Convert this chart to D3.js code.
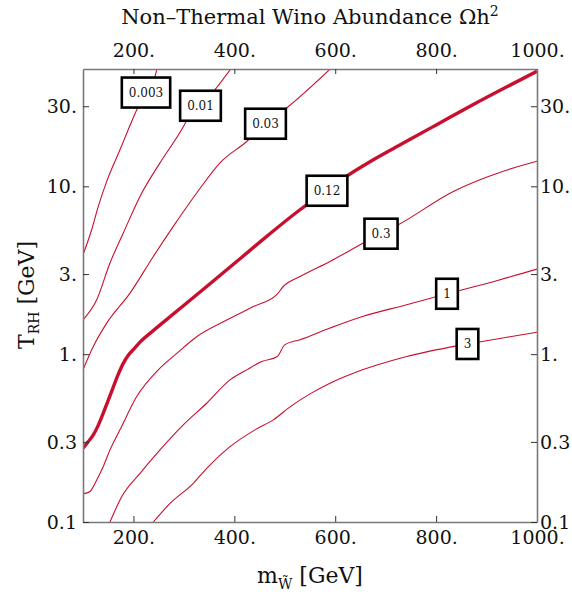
<!DOCTYPE html>
<html><head><meta charset="utf-8">
<script src="https://cdn.jsdelivr.net/npm/d3@7/dist/d3.min.js"></script>
<style>
body{margin:0;background:#fff}
svg{display:block}
text{font-family:"DejaVu Serif",serif;fill:#111}
</style>
</head><body>
<svg id="chart" width="572" height="596"></svg>
<script>
// ---- data ----
const levels = ["0.003", "0.01", "0.03", "0.12", "0.3", "1", "3"];
const thickLevel = "0.12";

const mass_0003 = [100, 117.2, 130.3, 147.0, 173.3, 189.8, 207.6, 224.9, 242.7, 246.7];
const trh_0003  = [3.91, 5.51, 7.59, 10.7, 16.5, 21.8, 29.0, 36.2, 45.0, 50.3];

const mass_001 = [100, 127.2, 153.5, 179.9, 213.0, 252.6, 295.7, 305.6, 332.9, 361.7, 393.4];
const trh_001  = [1.60, 2.11, 3.49, 5.27, 8.71, 13.8, 21.8, 24.6, 30.2, 37.7, 50.3];

const mass_003 = [100, 120.4, 147.0, 193.2, 239.4, 279.0, 325.4, 371.6, 424.5, 461.8, 501.8, 591.0];
const trh_003  = [0.806, 1.11, 1.53, 2.31, 3.82, 5.77, 9.12, 13.8, 18.5, 23.6, 29.0, 50.3];

const mass_012 = [100, 109.9, 119.8, 129.7, 139.6, 149.6, 159.5, 169.4, 179.3, 189.8, 201.1, 213.0, 232.8, 285.7, 345.2, 411.2, 464.2, 530.2, 583.7, 622.8, 675.5, 735.0, 801.2, 873.7, 1000];
const trh_012  = [0.275, 0.300, 0.328, 0.374, 0.441, 0.527, 0.630, 0.752, 0.875, 0.984, 1.076, 1.18, 1.33, 1.80, 2.53, 3.70, 5.03, 7.25, 9.41, 11.5, 14.4, 18.1, 23.3, 30.7, 48.5];

const mass_03 = [100, 113.9, 127.2, 140.2, 153.5, 173.3, 206.5, 249.3, 285.7, 325.4, 378.1, 437.6, 484.0, 497.1, 530.2, 589.6, 655.7, 690.8, 725.1, 834.1, 933.2, 1000];
const trh_03  = [0.147, 0.152, 0.178, 0.214, 0.269, 0.354, 0.559, 0.806, 1.01, 1.27, 1.56, 1.92, 2.26, 2.53, 2.90, 3.57, 4.59, 5.22, 5.90, 9.32, 12.3, 14.1];

const mass_1 = [153.5, 176.7, 213.0, 252.6, 298.8, 345.2, 391.4, 424.5, 454.2, 484.6, 500.4, 530.2, 589.6, 655.7, 741.7, 821.6, 920.1, 1000];
const trh_1  = [0.1, 0.1415, 0.195, 0.269, 0.379, 0.510, 0.703, 0.806, 0.904, 0.964, 1.14, 1.22, 1.43, 1.68, 1.97, 2.29, 2.74, 3.21];

const mass_3 = [239.4, 272.5, 318.7, 345.2, 391.4, 441.0, 477.3, 510.4, 550.0, 589.6, 635.8, 741.7, 862.2, 946.5, 1000];
const trh_3  = [0.1, 0.129, 0.170, 0.209, 0.281, 0.354, 0.406, 0.485, 0.580, 0.672, 0.770, 0.968, 1.15, 1.27, 1.35];

const labelMass = [224.9, 332.9, 461.8, 583.7, 690.8, 821.6, 862.2];

const xTicks = [200, 400, 600, 800, 1000];
const xTickLabels = ["200.", "400.", "600.", "800.", "1000."];
const yTicks = [0.1, 0.3, 1, 3, 10, 30];
const yTickLabels = ["0.1", "0.3", "1.", "3.", "10.", "30."];

const massSeries = [mass_0003, mass_001, mass_003, mass_012, mass_03, mass_1, mass_3];
const trhSeries  = [trh_0003, trh_001, trh_003, trh_012, trh_03, trh_1, trh_3];

// ---- layout ----
const pL = 83, pR = 537, pT = 69, pB = 522;
const lineColor = "#c8102e";

const svg = d3.select("#chart");
const x = d3.scaleLinear().domain([100, 1000]).range([pL, pR]);
const y = d3.scaleLog().domain([0.1, 50]).range([pB, pT]);

svg.append("defs").append("clipPath").attr("id", "plotclip")
  .append("rect").attr("x", pL).attr("y", pT)
  .attr("width", pR - pL).attr("height", pB - pT);

// contours
const line = d3.line().x(d => x(d[0])).y(d => y(d[1])).curve(d3.curveMonotoneX);
const gc = svg.append("g").attr("clip-path", "url(#plotclip)");
levels.forEach((lv, i) => {
  const pts = massSeries[i].map((m, j) => [m, trhSeries[i][j]]);
  gc.append("path").attr("d", line(pts)).attr("fill", "none")
    .attr("stroke", lineColor)
    .attr("stroke-width", lv === thickLevel ? 3.4 : 1.1)
    .attr("stroke-linejoin", "round");
});

// axes
function styleAxis(g) {
  g.select(".domain").attr("stroke", "#7a7a7a").attr("stroke-width", 1.6);
  g.selectAll(".tick line").attr("stroke", "#333").attr("stroke-width", 1);
  g.selectAll(".tick text").attr("font-family", "DejaVu Serif").attr("font-size", 19).attr("fill", "#111");
}
svg.append("g").attr("transform", `translate(0,${pB})`)
  .call(d3.axisBottom(x).tickValues(xTicks).tickFormat((d, i) => xTickLabels[i])
    .tickSizeInner(-6).tickSizeOuter(0).tickPadding(9)).call(styleAxis);
svg.append("g").attr("transform", `translate(0,${pT})`)
  .call(d3.axisTop(x).tickValues(xTicks).tickFormat((d, i) => xTickLabels[i])
    .tickSizeInner(-5).tickSizeOuter(0).tickPadding(12)).call(styleAxis);
svg.append("g").attr("transform", `translate(${pL},0)`)
  .call(d3.axisLeft(y).tickValues(yTicks).tickFormat((d, i) => yTickLabels[i])
    .tickSizeInner(-6).tickSizeOuter(0).tickPadding(6)).call(styleAxis);
svg.append("g").attr("transform", `translate(${pR},0)`)
  .call(d3.axisRight(y).tickValues(yTicks).tickFormat((d, i) => yTickLabels[i])
    .tickSizeInner(-6).tickSizeOuter(0).tickPadding(3)).call(styleAxis);

// contour labels
function interpT(ms, ts, m) {
  for (let j = 0; j < ms.length - 1; j++) {
    if (m >= ms[j] && m <= ms[j + 1]) {
      const f = (m - ms[j]) / (ms[j + 1] - ms[j]);
      return Math.exp(Math.log(ts[j]) + f * (Math.log(ts[j + 1]) - Math.log(ts[j])));
    }
  }
  return ts[ts.length - 1];
}
levels.forEach((lv, i) => {
  const cx = x(labelMass[i]);
  const cy = y(interpT(massSeries[i], trhSeries[i], labelMass[i]));
  const g = svg.append("g");
  const t = g.append("text").attr("x", cx).attr("y", cy).attr("dy", "0.36em")
    .attr("text-anchor", "middle").attr("font-size", 12).text(lv);
  const w = t.node().getComputedTextLength() + 14;
  g.insert("rect", "text").attr("x", cx - w / 2).attr("y", cy - 15)
    .attr("width", w).attr("height", 30)
    .attr("fill", "#fff").attr("stroke", "#000").attr("stroke-width", 2.6);
});

// title
const title = svg.append("text").attr("x", (pL + pR) / 2).attr("y", 23.5)
  .attr("text-anchor", "middle").attr("font-size", 21);
title.append("tspan").text("Non\u2013Thermal Wino Abundance \u03A9h");
title.append("tspan").attr("dy", -8).attr("font-size", 14).text("2");

// x label
const xl = svg.append("text").attr("x", (pL + pR) / 2).attr("y", 583)
  .attr("text-anchor", "middle").attr("font-size", 22);
xl.append("tspan").text("m");
xl.append("tspan").attr("dy", 6).attr("font-size", 14).text("W\u0303");
xl.append("tspan").attr("dy", -6).text(" [GeV]");

// y label
const yl = svg.append("text").attr("transform", "translate(34,295) rotate(-90)")
  .attr("text-anchor", "middle").attr("font-size", 22);
yl.append("tspan").text("T");
yl.append("tspan").attr("dy", 5).attr("font-size", 14).text("RH");
yl.append("tspan").attr("dy", -5).text(" [GeV]");
</script>
</body></html>
